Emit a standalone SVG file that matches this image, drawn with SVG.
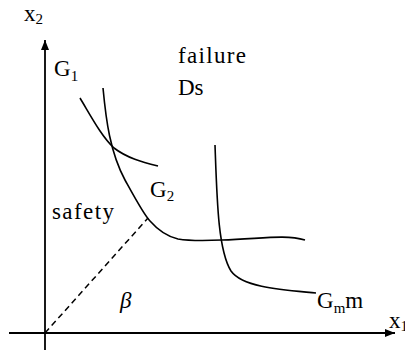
<svg xmlns="http://www.w3.org/2000/svg" width="405" height="351" viewBox="0 0 405 351">
<style>
.t{font-family:'Liberation Serif','Times New Roman',serif;font-size:23px;fill:#000}
.s{font-size:15px}
.c{fill:none;stroke:#000;stroke-width:1.6}
.ax{stroke:#000;stroke-width:1.8;fill:none}
</style>
<defs>
<marker id="ah" viewBox="0 0 10 8" refX="10" refY="4" markerWidth="10" markerHeight="8" markerUnits="userSpaceOnUse" orient="auto">
<path d="M0,0 L10,4 L0,8 Z" fill="#000"/>
</marker>
</defs>
<g id="connectors">
<line class="ax" x1="45" y1="350" x2="45" y2="40" marker-end="url(#ah)"/>
<line class="ax" x1="9" y1="333" x2="395" y2="333" marker-end="url(#ah)"/>
<line x1="45" y1="333" x2="148" y2="218" stroke="#000" stroke-width="1.5" stroke-dasharray="6,4"/>
</g>
<g id="G1">
<path class="c" d="M80,98 C92,118 102,137 114,148 C127,158 142,162 158,166"/>
<text class="t" x="54" y="76">G<tspan class="s" dy="5">1</tspan></text>
</g>
<g id="G2">
<path class="c" d="M103,88 C106,120 110,152 125,180 C136,200 144,215 150,221 C157,229 165,236 178,239 C190,241 200,241 222,240 C260,239 285,234 305,240"/>
<text class="t" x="150" y="197">G<tspan class="s" dy="4">2</tspan></text>
</g>
<g id="Gm">
<path class="c" d="M215,145 C217,200 218,250 231,271 C243,288 285,290 316,293"/>
<text class="t" x="317" y="308">G<tspan class="s" dy="5">m</tspan><tspan dy="-5">m</tspan></text>
</g>
<g id="labels">
<text class="t" x="24" y="21">x<tspan class="s" dy="3">2</tspan></text>
<text class="t" x="389" y="328">x<tspan class="s" dy="3">1</tspan></text>
<text class="t" x="178" y="63" textLength="68">failure</text>
<text class="t" x="178" y="95">Ds</text>
<text class="t" x="52" y="219" textLength="62">safety</text>
<text class="t" x="120" y="308" font-style="italic">β</text>
</g>
</svg>
